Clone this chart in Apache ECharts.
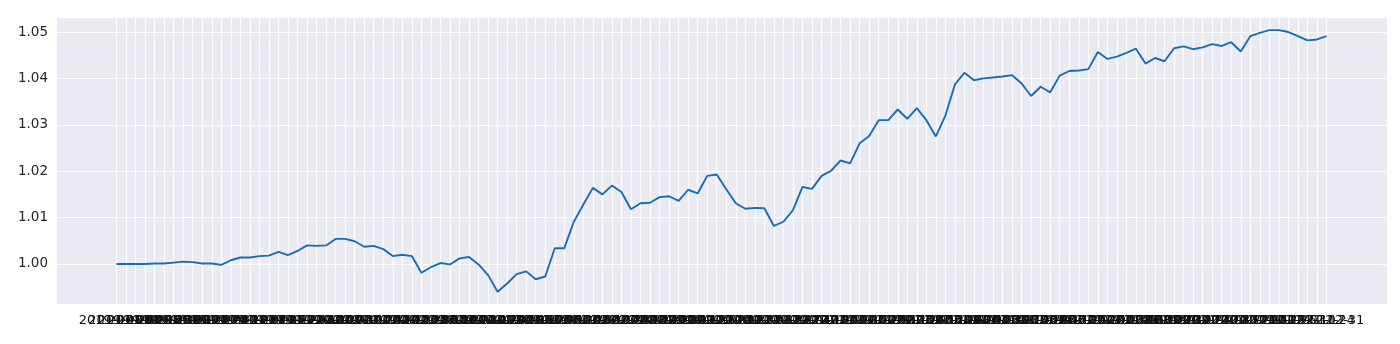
<!DOCTYPE html>
<html>
<head>
<meta charset="utf-8">
<script src="https://cdn.jsdelivr.net/npm/echarts@6/dist/echarts.min.js"></script>
<style>
html,body{margin:0;padding:0;background:#ffffff;}
#chart{width:1400px;height:344px;}
</style>
</head>
<body>
<div id="chart"></div>
<script>
const categories = [
"2019-07-26","2019-08-02","2019-08-09","2019-08-16","2019-08-23","2019-08-30","2019-09-06","2019-09-13","2019-09-20","2019-09-27",
"2019-10-04","2019-10-11","2019-10-18","2019-10-25","2019-11-01","2019-11-08","2019-11-15","2019-11-22","2019-11-29","2019-12-06",
"2019-12-13","2019-12-20","2019-12-27",
"2020-01-03","2020-01-10","2020-01-17","2020-01-24","2020-01-31","2020-02-07","2020-02-14","2020-02-21","2020-02-28","2020-03-06",
"2020-03-13","2020-03-20","2020-03-27","2020-04-03","2020-04-10","2020-04-17","2020-04-24","2020-05-01","2020-05-08","2020-05-15",
"2020-05-22","2020-05-29","2020-06-05","2020-06-12","2020-06-19","2020-06-26","2020-07-03","2020-07-10","2020-07-17","2020-07-24",
"2020-07-31","2020-08-07","2020-08-14","2020-08-21","2020-08-28","2020-09-04","2020-09-11","2020-09-18","2020-09-25","2020-10-02",
"2020-10-09","2020-10-16","2020-10-23","2020-10-30","2020-11-06","2020-11-13","2020-11-20","2020-11-27","2020-12-04","2020-12-11",
"2020-12-18","2020-12-25",
"2021-01-01","2021-01-08","2021-01-15","2021-01-22","2021-01-29","2021-02-05","2021-02-12","2021-02-19","2021-02-26","2021-03-05",
"2021-03-12","2021-03-19","2021-03-26","2021-04-02","2021-04-09","2021-04-16","2021-04-23","2021-04-30","2021-05-07","2021-05-14",
"2021-05-21","2021-05-28","2021-06-04","2021-06-11","2021-06-18","2021-06-25","2021-07-02","2021-07-09","2021-07-16","2021-07-23",
"2021-07-30","2021-08-06","2021-08-13","2021-08-20","2021-08-27","2021-09-03","2021-09-10","2021-09-17","2021-09-24","2021-10-01",
"2021-10-08","2021-10-15","2021-10-22","2021-10-29","2021-11-05","2021-11-12","2021-11-19","2021-11-26","2021-12-03","2021-12-10",
"2021-12-17","2021-12-24","2021-12-31"
];

const values = [
1.0000,1.0000,1.0000,1.0000,1.0001,1.0001,1.0003,1.0005,1.0004,1.0001,
1.0001,0.9998,1.0008,1.0014,1.0014,1.0017,1.0018,1.0026,1.0019,1.0028,
1.0040,1.0039,1.0040,1.0054,1.0054,1.0049,1.0037,1.0039,1.0032,1.0017,
1.0020,1.0017,0.9981,0.9993,1.0002,0.9999,1.0012,1.0015,0.9999,0.9976,
0.9940,0.9958,0.9978,0.9984,0.9967,0.9973,1.0034,1.0034,1.0091,1.0128,
1.0164,1.0150,1.0169,1.0155,1.0118,1.0131,1.0132,1.0144,1.0146,1.0136,
1.0160,1.0152,1.0190,1.0193,1.0161,1.0131,1.0119,1.0121,1.0120,1.0082,
1.0091,1.0116,1.0166,1.0162,1.0190,1.0201,1.0223,1.0217,1.0260,1.0276,
1.0310,1.0310,1.0333,1.0313,1.0336,1.0310,1.0275,1.0320,1.0387,1.0412,
1.0396,1.0400,1.0402,1.0404,1.0407,1.0389,1.0362,1.0382,1.0370,1.0406,
1.0416,1.0417,1.0420,1.0457,1.0442,1.0447,1.0455,1.0464,1.0432,1.0444,
1.0437,1.0465,1.0469,1.0463,1.0467,1.0474,1.0470,1.0478,1.0458,1.0491,
1.0498,1.0504,1.0504,1.0500,1.0491,1.0482,1.0484,1.0491
];

const yMin = 0.99137;
const yMax = 1.05324;

const FONT = 'DejaVu Sans';
const TXT = '#262626';

const chart = echarts.init(document.getElementById('chart'), null, {renderer: 'canvas'});
chart.setOption({
  animation: false,
  backgroundColor: '#ffffff',
  grid: [
    {left: 57, right: 13, top: 17, bottom: 40, show: true, backgroundColor: '#EAEAF2', borderWidth: 0},
    {left: 116.5, right: 73.5, top: 17, bottom: 40, show: false}
  ],
  xAxis: [
    {gridIndex: 0, type: 'value', min: 0, max: 1, show: false},
    {
      gridIndex: 1, type: 'category', data: categories, boundaryGap: false,
      axisLine: {show: false}, axisTick: {show: false},
      axisLabel: {interval: 0, rotate: 0, hideOverlap: false, margin: 10,
        fontFamily: FONT, fontSize: 13, color: '#111111'},
      splitLine: {show: true, interval: 0, lineStyle: {color: '#ffffff', width: 1.2}}
    }
  ],
  yAxis: [
    {
      gridIndex: 0, type: 'value', min: yMin, max: yMax, splitNumber: 5,
      axisLine: {show: false}, axisTick: {show: false},
      axisLabel: {margin: 9, fontFamily: FONT, fontSize: 13.5, color: TXT,
        showMinLabel: false, showMaxLabel: false,
        formatter: function (v) { return v.toFixed(2); }},
      splitLine: {show: true, lineStyle: {color: '#ffffff', width: 1.2}}
    },
    {gridIndex: 1, type: 'value', min: yMin, max: yMax, show: false}
  ],
  series: [{
    type: 'line', xAxisIndex: 1, yAxisIndex: 1, data: values,
    showSymbol: false, symbol: 'none',
    lineStyle: {color: '#1a6db2', width: 1.9},
    itemStyle: {color: '#1a6db2'}
  }]
});
</script>
</body>
</html>
